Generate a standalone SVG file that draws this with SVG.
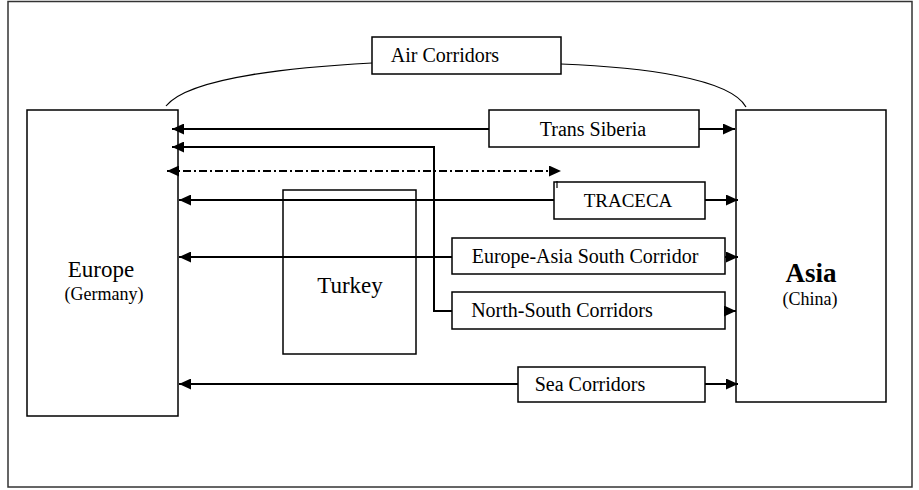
<svg xmlns="http://www.w3.org/2000/svg" width="919" height="490" viewBox="0 0 919 490">
<style>
.box{fill:#fff;stroke:#000;stroke-width:1.5}
.open{fill:none;stroke:#000;stroke-width:1.5}
.t{font-family:"Liberation Serif","Times New Roman",serif;fill:#000;text-anchor:middle}
.c{fill:none;stroke:#000;stroke-width:2}
.thin{fill:none;stroke:#000;stroke-width:1.2}
</style>
<defs>
<marker id="ah" viewBox="0 0 12 11" refX="12" refY="5.5" markerWidth="12" markerHeight="11" markerUnits="userSpaceOnUse" orient="auto-start-reverse">
<path d="M0,0 L12,5.5 L0,11 z" fill="#000"/>
</marker>
</defs>
<rect x="0" y="0" width="919" height="490" fill="#fff"/>
<rect x="8" y="1.5" width="904" height="485.5" fill="none" stroke="#333" stroke-width="1.5"/>
<g id="europe">
<rect class="box" x="27" y="110" width="151" height="306"/>
<text class="t" x="101" y="277" font-size="23" font-family="Liberation Serif, serif">Europe</text>
<text class="t" x="104" y="300" font-size="18" font-family="Liberation Serif, serif">(Germany)</text>
</g>
<g id="asia">
<rect class="box" x="736" y="110" width="150" height="292"/>
<text class="t" x="811" y="282" font-size="27" font-weight="bold" font-family="Liberation Serif, serif">Asia</text>
<text class="t" x="810" y="305" font-size="18" font-family="Liberation Serif, serif">(China)</text>
</g>
<g id="air">
<rect class="box" x="372" y="37" width="189" height="37"/>
<text class="t" x="445" y="62" font-size="20" font-family="Liberation Serif, serif">Air Corridors</text>
</g>
<g id="transsiberia">
<rect class="box" x="489" y="110" width="210" height="37"/>
<text class="t" x="593" y="136" font-size="20" font-family="Liberation Serif, serif">Trans Siberia</text>
</g>
<g id="turkey">
<rect class="open" x="283" y="190" width="133" height="164"/>
<text class="t" x="350" y="293" font-size="23" font-family="Liberation Serif, serif">Turkey</text>
</g>
<g id="traceca">
<rect class="box" x="554" y="182" width="151" height="37"/>
<text class="t" x="628" y="207" font-size="19" font-family="Liberation Serif, serif">TRACECA</text>
</g>
<g id="easc">
<rect class="box" x="452" y="238" width="273" height="36"/>
<text class="t" x="585" y="263" font-size="20" font-family="Liberation Serif, serif">Europe-Asia South Corridor</text>
</g>
<g id="nsc">
<rect class="box" x="452" y="292" width="273" height="37"/>
<text class="t" x="562" y="317" font-size="20" font-family="Liberation Serif, serif">North-South Corridors</text>
</g>
<g id="sea">
<rect class="box" x="518" y="367" width="187" height="35"/>
<text class="t" x="590" y="391" font-size="20" font-family="Liberation Serif, serif">Sea Corridors</text>
</g>
<g id="connectors">
<path class="thin" d="M166,106 C190,76 300,67 372,63"/>
<path class="thin" d="M561,64 C640,67 730,78 746,107"/>
<line class="c" x1="172" y1="129" x2="489" y2="129" marker-start="url(#ah)"/>
<line class="c" x1="699" y1="129" x2="735" y2="129" marker-end="url(#ah)"/>
<path class="c" d="M172,147 L434,147 L434,311 L452,311" marker-start="url(#ah)"/>
<line class="c" x1="167" y1="171" x2="561" y2="171" stroke-dasharray="8,3,2,3" marker-start="url(#ah)" marker-end="url(#ah)"/>
<line class="thin" x1="557" y1="181" x2="557" y2="188"/>
<line class="c" x1="179" y1="200" x2="554" y2="200" marker-start="url(#ah)"/>
<line class="c" x1="705" y1="200" x2="738" y2="200" marker-end="url(#ah)"/>
<line class="c" x1="179" y1="257" x2="452" y2="257" marker-start="url(#ah)"/>
<line class="c" x1="725" y1="257" x2="738" y2="257" marker-end="url(#ah)"/>
<line class="c" x1="725" y1="311" x2="736" y2="311" marker-end="url(#ah)"/>
<line class="c" x1="179" y1="384" x2="518" y2="384" marker-start="url(#ah)"/>
<line class="c" x1="705" y1="384" x2="738" y2="384" marker-end="url(#ah)"/>
</g>
</svg>
